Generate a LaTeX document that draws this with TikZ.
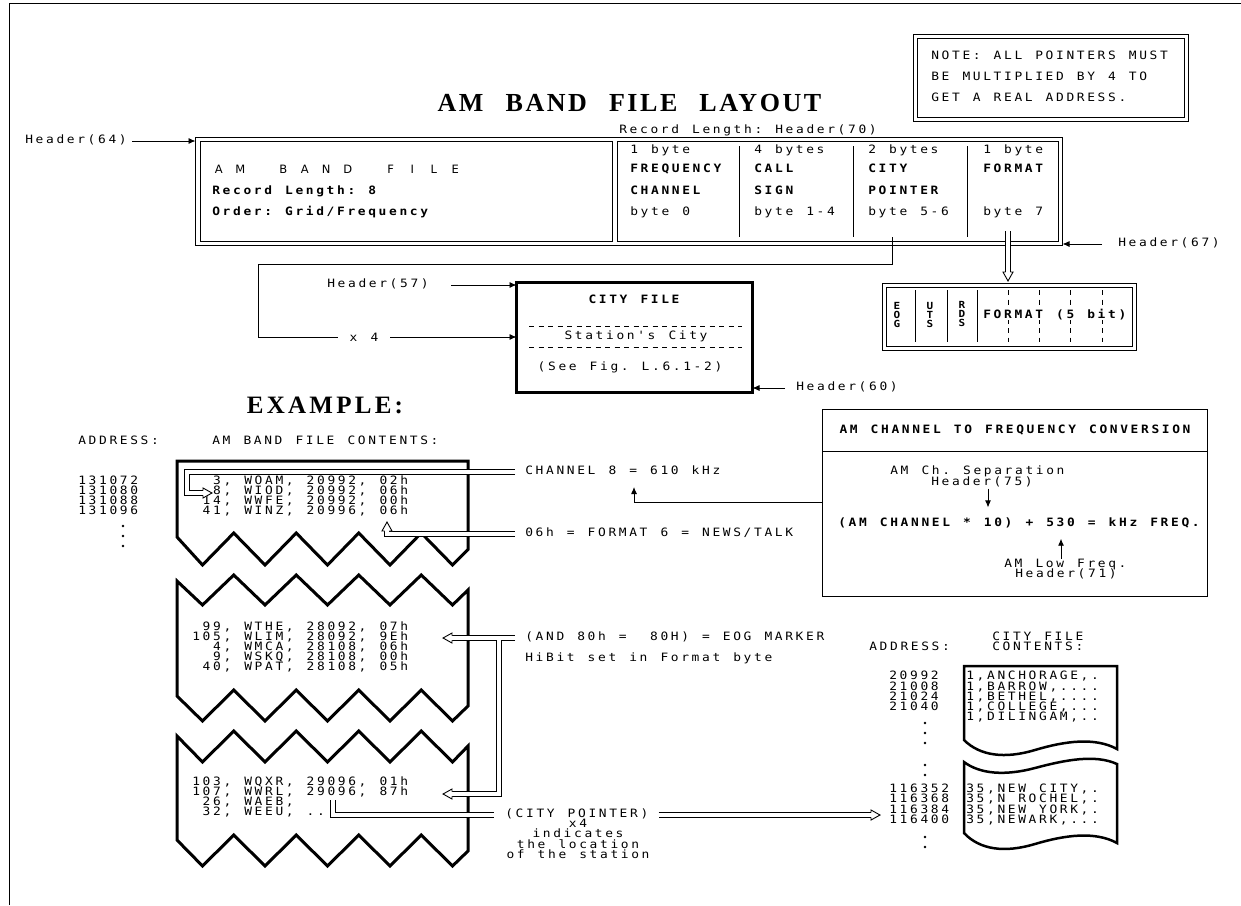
\documentclass[tikz,border=0pt]{standalone}
\usepackage{fontspec}
\usetikzlibrary{arrows.meta}
\newfontfamily\mono{DejaVu Sans Mono}[FakeStretch=1.12]
\newfontfamily\sansw{DejaVu Sans}
\newfontfamily\sertitle{Liberation Serif}[LetterSpace=10]
\newfontfamily\serex{Liberation Serif}[LetterSpace=13]
\newlength\pitch
\setlength\pitch{10.4pt}
\ExplSyntaxOn
\NewDocumentCommand\M{m}{\str_map_inline:nn{#1}{\str_if_eq:nnTF{##1}{_}{\hbox_to_wd:nn{\pitch}{}}{\makebox[\pitch][c]{##1}}}}
\ExplSyntaxOff
\begin{document}
\begin{tikzpicture}[x=1pt,y=-1pt,
  every node/.style={inner sep=0pt,outer sep=0pt},
  mt/.style={font=\mono\fontsize{11.5}{12}\selectfont,anchor=mid west},
  mb/.style={font=\mono\bfseries\fontsize{11.5}{12}\selectfont,anchor=mid west},
  vb/.style={font=\mono\bfseries\fontsize{9.8}{10}\selectfont,anchor=mid},
  ln/.style={line width=0.9pt},
  harr/.style={line width=0.9pt,-{Latex[length=7pt,width=6pt]}},
  dbl/.style={draw=black,line width=0.9pt,double=white,double distance=4pt},
  sbox/.style={draw,line width=0.9pt},
  blk/.style={line width=3pt,line join=miter},
  page/.style={line width=2.5pt,line join=miter},
  dsh/.style={line width=0.9pt,dash pattern=on 5pt off 4.5pt},
  hhead/.pic={\fill[white] (0.5,0) -- (-9,5.5) -- (-9,-5.5) -- cycle;
    \draw[line width=0.9pt,line join=miter] (-9,-2.4) -- (-9,-5) -- (0,0) -- (-9,5) -- (-9,2.4);}
]
\useasboundingbox (0,0) rectangle (1241,905);
% frame
\draw[ln] (9,905) -- (9,3.5) -- (1241,3.5);
% title
\node[font=\sertitle\bfseries\fontsize{26}{28}\selectfont] (title) at (629.5,103) {AM\hspace{22pt}BAND\hspace{22pt}FILE\hspace{22pt}LAYOUT};
% note box
\node[sbox,minimum width=275pt,minimum height=87pt] (note) at (1050.5,77.5) {};
\draw[ln] ([xshift=4pt,yshift=-4pt]note.north west) rectangle ([xshift=-4pt,yshift=4pt]note.south east);
\node[mt] (n1) at (930,57) {\M{NOTE: ALL POINTERS MUST}};
\node[mt] (n2) at (930,78) {\M{BE MULTIPLIED BY 4 TO}};
\node[mt] (n3) at (930,99) {\M{GET A REAL ADDRESS.}};
% record box
\node[sbox,minimum width=867pt,minimum height=108pt] (rec) at (629,191.5) {};
\node[sbox,minimum width=412pt,minimum height=100pt] (recL) at (406,191.5) {};
\node[sbox,minimum width=441.5pt,minimum height=100pt] (recR) at (837.75,191.5) {};
\node[anchor=mid west,font=\sansw\fontsize{11.5}{12}\selectfont] (amb) at (208,171) {\setlength\pitch{21.5pt}\M{AM BAND FILE}};
\node[mb] (rl8) at (211,192) {\M{Record Length: 8}};
\node[mb] (ord) at (211,213) {\M{Order: Grid/Frequency}};
\node[mt] (rlh) at (618,131) {\M{Record Length: Header(70)}};
\node[mt] (a1) at (629,151) {\M{1 byte}};
\node[mb] (a2) at (629,170) {\M{FREQUENCY}};
\node[mb] (a3) at (629,192) {\M{CHANNEL}};
\node[mt] (a4) at (629,213) {\M{byte 0}};
\node[mt] (b1) at (753,151) {\M{4 bytes}};
\node[mb] (b2) at (753,170) {\M{CALL}};
\node[mb] (b3) at (753,192) {\M{SIGN}};
\node[mt] (b4) at (753,213) {\M{byte 1-4}};
\node[mt] (c1) at (867,151) {\M{2 bytes}};
\node[mb] (c2) at (867,170) {\M{CITY}};
\node[mb] (c3) at (867,192) {\M{POINTER}};
\node[mt] (c4) at (867,213) {\M{byte 5-6}};
\node[mt] (d1) at (982,151) {\M{1 byte}};
\node[mb] (d2) at (982,170) {\M{FORMAT}};
\node[mt] (d4) at (982,213) {\M{byte 7}};
\foreach \x in {739,853,967} \draw[ln] (\x,146) -- (\x,237);
% header arrows
\node[mt] (h64) at (24,141) {\M{Header(64)}};
\draw[harr] ([xshift=4pt]h64.mid east) -- (h64.mid east -| rec.west);
\node[mt] (h67) at (1117,244) {\M{Header(67)}};
\draw[harr] ([xshift=-15pt]h67.mid west) -- (h67.mid west -| rec.east);
% city file box
\node[draw,line width=2.5pt,minimum width=236pt,minimum height=110pt] (city) at (634.5,337.5) {};
\node[mb,anchor=mid] (cf) at (634,301) {\M{CITY FILE}};
\draw[dsh] (529,326) -- (742,326);
\draw[dsh] (529,347) -- (742,347);
\node[mt,anchor=mid] (sc) at (636,337) {\M{Station's City}};
\node[mt,anchor=mid] (sf) at (630,368) {\M{(See Fig. L.6.1-2)}};
\node[mt] (h57) at (326,285) {\M{Header(57)}};
\draw[harr] ([xshift=21pt]h57.mid east) -- (h57.mid east -| city.west);
\node[mt] (h60) at (795,388) {\M{Header(60)}};
\draw[harr] ([xshift=-10pt]h60.mid west) -- (h60.mid west -| city.east);
\coordinate (lp) at (892,237);
\draw[harr] (lp) |- (258,264) |- (city.west |- 0,337)
  node[pos=0.705,fill=white,inner xsep=10pt,font=\mono\fontsize{11.5}{12}\selectfont] (x4) {\M{x 4}};
% format box
\node[sbox,minimum width=254pt,minimum height=67pt] (fmt) at (1009,316.5) {};
\draw[ln] ([xshift=4pt,yshift=-4pt]fmt.north west) rectangle ([xshift=-4pt,yshift=4pt]fmt.south east);
\foreach \x in {915,947,977} \draw[ln] (\x,290) -- (\x,342);
\foreach \x in {1008,1039,1070,1102} \draw[dsh] (\x,290) -- (\x,342);
\node[mb,fill=white] (fmtt) at (982,316) {\M{FORMAT (5 bit)}};
\node[vb] (e1) at (897,307) {E};
\node[vb] (e2) at (897,316) {O};
\node[vb] (e3) at (897,325) {G};
\node[vb] (u1) at (930,307) {U};
\node[vb] (u2) at (930,316) {T};
\node[vb] (u3) at (930,325) {S};
\node[vb] (r1) at (962,306) {R};
\node[vb] (r2) at (962,315) {D};
\node[vb] (r3) at (962,324) {S};
\coordinate (fa) at (1008,231);
\draw[dbl] (fa) -- ([yshift=11pt]fmt.north -| fa);
\pic[rotate=-90] at ([yshift=2pt]fmt.north -| fa) {hhead};
% conversion box
\node[sbox,minimum width=385pt,minimum height=187pt] (conv) at (1014.5,502.5) {};
\draw[ln] (conv.west |- 0,451) -- (conv.east |- 0,451);
\node[mb,anchor=mid] (ct) at (1015,431) {\M{AM CHANNEL TO FREQUENCY CONVERSION}};
\node[mt] (sep) at (889,472) {\M{AM Ch. Separation}};
\node[mt] (h75) at (930,483) {\M{Header(75)}};
\node[mb] (fm) at (837,524) {\M{(AM CHANNEL * 10) + 530 = kHz FREQ.}};
\node[mt] (alf) at (1003,565) {\M{AM Low Freq.}};
\node[mt] (h71) at (1014,575) {\M{Header(71)}};
\draw[harr] ([yshift=-2pt]h75.south -| 988,0) -- ([yshift=10pt]fm.north -| 988,0);
\draw[harr] (alf.north -| 1061,0) -- ([yshift=-11pt]fm.south -| 1061,0);
\coordinate (c8t) at (634,487);
\draw[harr] (conv.west |- 0,502) -| (c8t);
% example
\node[font=\serex\bfseries\fontsize{25}{27}\selectfont] (ex) at (325,405) {EXAMPLE:};
\node[mt] (adr) at (77,442) {\M{ADDRESS:}};
\node[mt] (abc) at (211,442) {\M{AM BAND FILE CONTENTS:}};
% blocks
\draw[blk] (177,461) -- (468,461) -- (468,549.5) -- (452.5,565) -- (421.25,533) -- (390,565) -- (358.75,533) -- (327.5,565) -- (296.25,533) -- (265,565) -- (233.75,533) -- (202.5,565) -- (177,537) -- cycle;
\draw[blk] (177,581) -- (202.5,605) -- (233.75,575) -- (265,605) -- (296.25,575) -- (327.5,605) -- (358.75,575) -- (390,605) -- (421.25,575) -- (452.5,605) -- (468,590) -- (468,706) -- (452.5,721) -- (421.25,690) -- (390,721) -- (358.75,690) -- (327.5,721) -- (296.25,690) -- (265,721) -- (233.75,690) -- (202.5,721) -- (177,696) -- cycle;
\draw[blk] (177,736) -- (202.5,762) -- (233.75,731) -- (265,762) -- (296.25,731) -- (327.5,762) -- (358.75,731) -- (390,762) -- (421.25,731) -- (452.5,762) -- (468,746) -- (468,851) -- (452.5,866) -- (421.25,835) -- (390,866) -- (358.75,835) -- (327.5,866) -- (296.25,835) -- (265,866) -- (233.75,835) -- (202.5,866) -- (177,840) -- cycle;
% block 1 rows
\node[mt] (ad1) at (77,482) {\M{131072}};
\node[mt] (ad2) at (77,492) {\M{131080}};
\node[mt] (ad3) at (77,502) {\M{131088}};
\node[mt] (ad4) at (77,512) {\M{131096}};
\fill (123,526) circle (1.3) (123,536) circle (1.3) (123,546) circle (1.3);
\node[mt] (r11) at (191,482) {\M{__3, WOAM, 20992, 02h}};
\node[mt] (r12) at (191,492) {\M{__8, WIOD, 20992, 06h}};
\node[mt] (r13) at (191,502) {\M{_14, WWFE, 20992, 00h}};
\node[mt] (r14) at (191,512) {\M{_41, WINZ, 20996, 06h}};
% block 2 rows
\node[mt] (r21) at (191,628) {\M{_99, WTHE, 28092, 07h}};
\node[mt] (r22) at (191,638) {\M{105, WLIM, 28092, 9Eh}};
\node[mt] (r23) at (191,648) {\M{__4, WMCA, 28108, 06h}};
\node[mt] (r24) at (191,658) {\M{__9, WSKQ, 28108, 00h}};
\node[mt] (r25) at (191,668) {\M{_40, WPAT, 28108, 05h}};
% block 3 rows
\node[mt] (r31) at (191,783) {\M{103, WQXR, 29096, 01h}};
\node[mt] (r32) at (191,793) {\M{107, WWRL, 29096, 87h}};
\node[mt] (r33) at (191,803) {\M{_26, WAEB,}};
\node[mt] (r34) at (191,813) {\M{_32, WEEU, ..}};
% annotations
\node[mt] (ch8) at (524,472) {\M{CHANNEL 8 = 610 kHz}};
\node[mt] (f6) at (524,534) {\M{06h = FORMAT 6 = NEWS/TALK}};
\node[mt] (eog) at (524,638) {\M{(AND 80h = _80H) = EOG MARKER}};
\node[mt] (hib) at (524,659) {\M{HiBit set in Format byte}};
\node[mt] (cptr) at (504,815) {\M{(CITY POINTER)}};
\node[mt,anchor=mid] (cp1) at (578,825) {\M{x4}};
\node[mt,anchor=mid] (cp2) at (578,835) {\M{indicates}};
\node[mt,anchor=mid] (cp3) at (578,846) {\M{the location}};
\node[mt,anchor=mid] (cp4) at (578,856) {\M{of the station}};
% double connectors
\draw[dbl] ([xshift=-9pt]ch8.mid west) -| (187,493) -- (203,493);
\pic at (212,493) {hhead};
\draw[dbl] ([xshift=-9pt]f6.mid west) -| (387,531);
\pic[rotate=90] at (387,522) {hhead};
\draw[dbl] ([xshift=-9pt]eog.mid west) -- (452,638) (499,638) |- (452,794);
\pic[rotate=180] at (443,638) {hhead};
\pic[rotate=180] at (443,794) {hhead};
\coordinate (cpst) at (333,800);
\draw[dbl] (cpst) |- ([xshift=-10pt]cptr.mid west);
\draw[dbl] ([xshift=9pt]cptr.mid east) -- (871,815);
\pic at (880,815) {hhead};
% city file contents
\node[mt] (cadr) at (868,648) {\M{ADDRESS:}};
\node[mt] (cfl) at (991,638) {\M{CITY FILE}};
\node[mt] (cct) at (991,648) {\M{CONTENTS:}};
\draw[page] (964,740) -- (964,666) -- (1117,666) -- (1117,749) .. controls (1095,737) and (1065,741) .. (1035,750) .. controls (1005,759) and (980,756) .. (964,740) -- cycle;
\draw[page] (964,762) .. controls (980,774) and (1005,776) .. (1035,768) .. controls (1065,760) and (1095,754) .. (1117,764) -- (1117,843) .. controls (1095,831) and (1065,835) .. (1035,844) .. controls (1005,853) and (980,850) .. (964,833) -- cycle;
\node[mt] (ca1) at (888,677) {\M{20992}};
\node[mt] (ca2) at (888,688) {\M{21008}};
\node[mt] (ca3) at (888,698) {\M{21024}};
\node[mt] (ca4) at (888,708) {\M{21040}};
\node[mt] (ca5) at (888,790) {\M{116352}};
\node[mt] (ca6) at (888,800) {\M{116368}};
\node[mt] (ca7) at (888,811) {\M{116384}};
\node[mt] (ca8) at (888,821) {\M{116400}};
\fill (925,723) circle (1.3) (925,733) circle (1.3) (925,743) circle (1.3) (925,765) circle (1.3) (925,775) circle (1.3) (925,837) circle (1.3) (925,847) circle (1.3);
\node[mt] (cr1) at (965,677) {\M{1,ANCHORAGE,.}};
\node[mt] (cr2) at (965,688) {\M{1,BARROW,....}};
\node[mt] (cr3) at (965,698) {\M{1,BETHEL,....}};
\node[mt] (cr4) at (965,708) {\M{1,COLLEGE,...}};
\node[mt] (cr5) at (965,718) {\M{1,DILINGAM,..}};
\node[mt] (cr6) at (965,790) {\M{35,NEW CITY,.}};
\node[mt] (cr7) at (965,800) {\M{35,N ROCHEL,.}};
\node[mt] (cr8) at (965,811) {\M{35,NEW YORK,.}};
\node[mt] (cr9) at (965,821) {\M{35,NEWARK,...}};
\end{tikzpicture}
\end{document}
